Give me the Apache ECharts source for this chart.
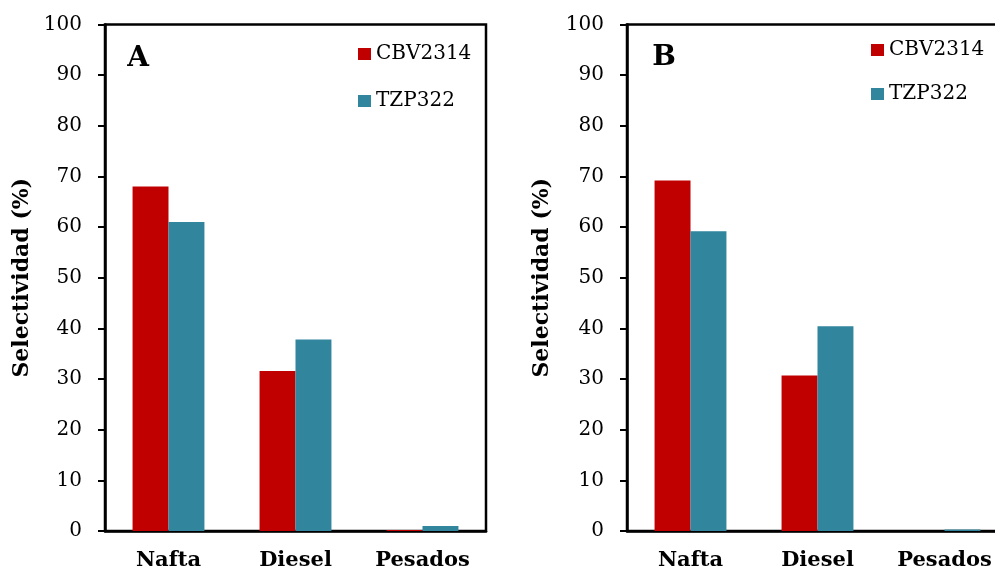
<!DOCTYPE html>
<html>
<head>
<meta charset="utf-8">
<script src="https://cdn.jsdelivr.net/npm/echarts@6/dist/echarts.min.js"></script>
<style>html,body{margin:0;padding:0;background:#fff;overflow:hidden}#c{width:1012px;height:572px}</style>
</head>
<body>
<div id="c"></div>
<script>
var categories = ['Nafta', 'Diesel', 'Pesados'];
var seriesNames = ['CBV2314', 'TZP322'];
var panelA_CBV2314 = [68.0, 31.6, 0.2];
var panelA_TZP322 = [61.0, 37.8, 1.0];
var panelB_CBV2314 = [69.2, 30.7, 0.0];
var panelB_TZP322 = [59.2, 40.4, 0.3];
var yTicks = [0, 10, 20, 30, 40, 50, 60, 70, 80, 90, 100];
var panelLabels = ['A', 'B'];
var yTitle = 'Selectividad (%)';

var colors = ['#C00000', '#31859C'];
var serif = 'DejaVu Serif';
var chart = echarts.init(document.getElementById('c'));

function xAx(i) {
  return {
    type: 'category', gridIndex: i, data: categories,
    axisLine: {lineStyle: {color: '#000', width: 2.5}},
    axisTick: {show: false},
    axisLabel: {color: '#000', fontFamily: serif, fontWeight: 'bold', fontSize: 21, margin: 19}
  };
}
function yAx(i, gap) {
  return {
    type: 'value', gridIndex: i, min: yTicks[0], max: yTicks[yTicks.length - 1], interval: yTicks[1] - yTicks[0],
    name: yTitle, nameLocation: 'middle', nameGap: gap,
    nameTextStyle: {color: '#000', fontFamily: serif, fontWeight: 'bold', fontSize: 22},
    axisLine: {show: true, lineStyle: {color: '#000', width: 2.5}},
    axisTick: {show: true, length: 7, lineStyle: {color: '#000', width: 2}},
    axisLabel: {color: '#000', fontFamily: serif, fontSize: 20, margin: 23},
    splitLine: {show: false}
  };
}
function bar(name, data, idx, color) {
  return {
    type: 'bar', name: name, xAxisIndex: idx, yAxisIndex: idx, data: data,
    barWidth: '28.3%', barGap: '0%',
    itemStyle: {color: color}
  };
}
var legendCommon = {
  orient: 'vertical', itemWidth: 13, itemHeight: 12, padding: 0,
  textStyle: {color: '#000', fontFamily: serif, fontSize: 20},
  data: seriesNames, selectedMode: false, icon: 'rect'
};

chart.setOption({
  animation: false,
  backgroundColor: '#fff',
  grid: [
    {left: 105, top: 24.5, width: 381, height: 506.5, show: true, borderColor: '#000', borderWidth: 2.5},
    {left: 627, top: 24.5, width: 381, height: 506.5, show: true, borderColor: '#000', borderWidth: 2.5}
  ],
  xAxis: [xAx(0), xAx(1)],
  yAxis: [yAx(0, 72), yAx(1, 74)],
  legend: [
    Object.assign({left: 358, top: 44, itemGap: 27}, legendCommon),
    Object.assign({left: 871, top: 40, itemGap: 24}, legendCommon)
  ],
  graphic: [
    {type: 'text', x: 138, y: 59, style: {text: panelLabels[0], fill: '#000', font: 'bold 28px "DejaVu Serif"', textAlign: 'center', textVerticalAlign: 'middle'}},
    {type: 'text', x: 664, y: 58, style: {text: panelLabels[1], fill: '#000', font: 'bold 28px "DejaVu Serif"', textAlign: 'center', textVerticalAlign: 'middle'}}
  ],
  series: [
    bar(seriesNames[0], panelA_CBV2314, 0, colors[0]),
    bar(seriesNames[1], panelA_TZP322, 0, colors[1]),
    bar(seriesNames[0], panelB_CBV2314, 1, colors[0]),
    bar(seriesNames[1], panelB_TZP322, 1, colors[1])
  ]
});
</script>
</body>
</html>
